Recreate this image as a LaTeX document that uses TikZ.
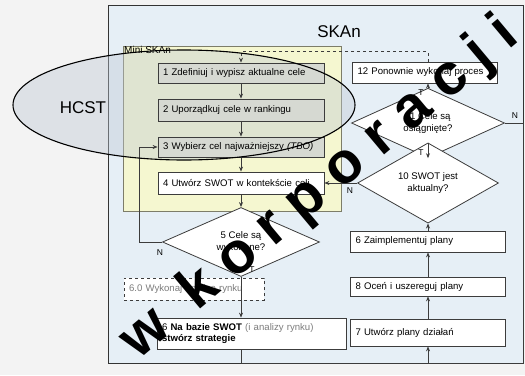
\documentclass[tikz,border=0pt]{standalone}
\usepackage{fontspec}
\setmainfont{Liberation Sans}
\newfontfamily\wmfont[LetterSpace=27]{Liberation Sans}
\usetikzlibrary{arrows.meta,positioning,shapes.geometric}
\definecolor{pagebg}{RGB}{243,243,243}
\definecolor{skanbg}{RGB}{230,239,246}
\definecolor{minibg}{RGB}{245,247,208}
\definecolor{miniedge}{RGB}{125,125,105}
\definecolor{linegray}{RGB}{60,60,60}
\definecolor{textgray}{RGB}{125,125,125}
\definecolor{hcstfill}{RGB}{190,200,212}
\definecolor{boxgray}{RGB}{214,217,210}

\begin{document}
\begin{tikzpicture}[
    x=1pt, y=-1pt,
    box/.style={draw=linegray, fill=white, line width=0.8pt, inner xsep=5pt, inner ysep=0pt,
                align=left, font=\fontsize{9.6}{11.5}\selectfont},
    dec/.style={diamond, draw=linegray, fill=white, line width=0.8pt, inner sep=0pt,
                align=center, font=\fontsize{9.6}{11.5}\selectfont},
    arr/.style={-{Stealth[length=5pt,width=4pt]}, linegray, line width=0.7pt},
    dasharr/.style={arr, dashed},
    wire/.style={linegray, line width=0.7pt},
    lbl/.style={font=\fontsize{8.5}{9}\selectfont, inner sep=0pt}
]
\useasboundingbox (0,0) rectangle (525,375);
\fill[pagebg] (0,0) rectangle (525,375);
\draw[fill=skanbg, draw=black!80, line width=0.8pt] (108,5) rectangle (523,363);
\draw[fill=minibg, draw=miniedge, line width=0.8pt] (123,46) rectangle (341,211);

\node[ellipse, fill=hcstfill, fill opacity=0.4, inner sep=0pt,
      minimum width=342pt, minimum height=110pt] (hcst) at (184,105) {};

\node[font=\fontsize{17}{20}\selectfont] (tytul) at (339,32) {SKAn};
\node[anchor=north west, inner sep=1pt, font=\fontsize{10}{11}\selectfont] (mini) at (123,45) {Mini SKAn};

\node[box, fill=boxgray, text width=156pt, minimum height=20pt] (cele1) at (241,73) {1 Zdefiniuj i wypisz aktualne cele};
\node[box, fill=boxgray, text width=156pt, minimum height=22pt] (cele2) at (241,110) {2 Uporządkuj cele w rankingu};
\node[box, fill=boxgray, text width=156pt, minimum height=20pt] (cele3) at (241,147) {3 Wybierz cel najważniejszy \textit{(TBO)}};
\node[box, text width=156pt, minimum height=22pt] (swot4) at (241,183) {4 Utwórz SWOT w kontekście celi};
\node[dec, minimum width=157pt, minimum height=41pt] (cel5) at (241,242) {5 Cele są\\wykonane?};
\node[box, dashed, text=textgray, text width=130pt, minimum height=22pt] (rynek60) at (194,289) {6.0 Wykonaj analizę rynku};
\node[box, text width=179pt, minimum height=31pt] (strat6) at (251.5,333.5) {6 \textbf{Na bazie SWOT} {\color{textgray}(i analizy rynku)}\\\textbf{stwórz strategie}};

\node[box, text width=135pt, minimum height=21pt] (proc12) at (425,72.5) {12 Ponownie wykonaj proces};
\node[dec, minimum width=153pt, minimum height=45pt] (cel11) at (428,123) {11 Cele są\\osiągnięte?};
\node[dec, minimum width=141pt, minimum height=46pt] (swot10) at (428,183) {10 SWOT jest\\aktualny?};
\node[box, text width=145pt, minimum height=21pt] (impl6) at (428,241.5) {6 Zaimplementuj plany};
\node[box, text width=145pt, minimum height=19pt] (ocen8) at (428,286.5) {8 Oceń i uszereguj plany};
\node[box, text width=145pt, minimum height=27pt] (plan7) at (428,332.5) {7 Utwórz plany działań};

\coordinate (zawrot) at (139,242);
\coordinate (dol) at (241,363);
\coordinate (dolp) at (428,363);
\coordinate (nrog) at (523,123);

\draw[arr] (cele1) -- (cele2);
\draw[arr] (cele2) -- (cele3);
\draw[arr] (cele3) -- (swot4);
\draw[arr] (swot4) -- (cel5);
\draw[arr] (cel5) -- (cel5.south |- strat6.north);
\draw[arr] (cel5.west) -- (zawrot) |- (cele3.west);
\draw[arr] (strat6.south -| dol) -- (dol) -- (dolp) -- (plan7);
\draw[arr] (plan7) -- (ocen8);
\draw[arr] (ocen8) -- (impl6);
\draw[arr] (impl6) -- (swot10);
\draw[arr] (swot10) -- (cel11);
\draw[arr] (swot10.west) -- (swot4.east);
\draw[arr] (cel11.north) -- (cel11.north |- proc12.south);
\draw[wire] (cel11.east) -- (nrog) |- (dolp);
\draw[dasharr] (cel11.north |- proc12.north) -- ++(0,-10) -| (cele1.north);

\node[lbl] (t11) at (421,93) {T};
\node[lbl] (t10) at (421,153) {T};
\node[lbl] (n11) at (515,116) {N};
\node[lbl] (n10) at (350,191) {N};
\node[lbl] (n5) at (160,253) {N};
\node[lbl] (t5) at (252,270) {T};

\draw[black, line width=1.1pt] (hcst.center) ellipse [x radius=171, y radius=55];
\node[font=\fontsize{17}{20}\selectfont] (hcstlbl) at (83,108) {HCST};

\node[rotate=40, font=\wmfont\bfseries\fontsize{58}{58}\selectfont] (znak) at (320,189) {w korporacji};
\end{tikzpicture}
\end{document}
